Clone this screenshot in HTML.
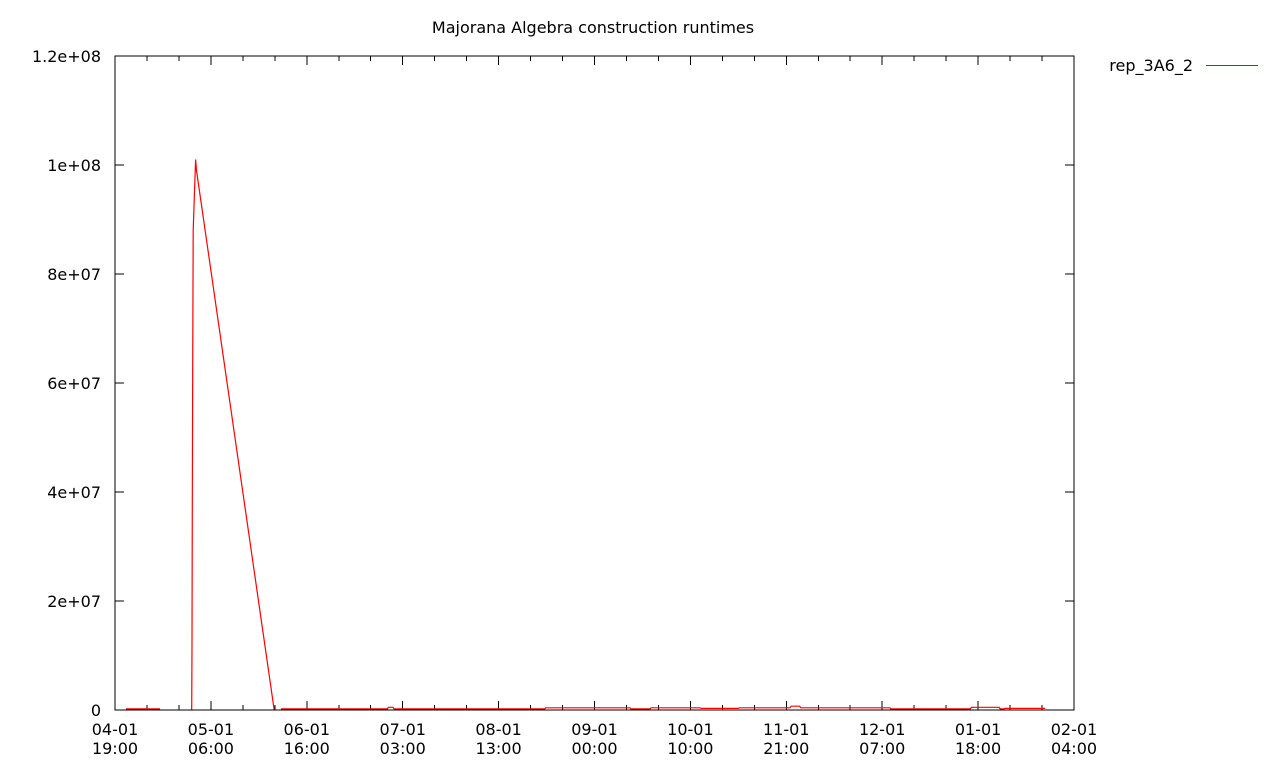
<!DOCTYPE html>
<html><head><meta charset="utf-8"><style>
body{margin:0;background:#fff;width:1280px;height:768px;overflow:hidden}
svg text{font-family:"DejaVu Sans","Liberation Sans",sans-serif;font-size:16px;fill:#000}
</style></head><body>
<svg id="chart" width="1280" height="768" xmlns="http://www.w3.org/2000/svg" shape-rendering="crispEdges"></svg>
<script>
// x positions are in "major tick" units (0 = 04-01 19:00, 10 = 02-01 04:00); null = gap
const seriesX = [0.115,0.47,null,0.80,0.803,0.806,0.81,0.815,0.84,0.85,1.66,null,1.73,2.84,2.85,2.90,2.91,4.48,4.49,5.37,5.38,5.58,5.59,6.10,6.11,6.50,6.51,7.04,7.05,7.14,7.15,8.08,8.09,8.92,8.93,9.22,9.23,9.27,9.28,9.70];
const seriesY = [2e5,2e5,null,0,1.2e7,3.8e7,6.3e7,8.8e7,1.01e8,9.9e7,0,null,2e5,2e5,5e5,5e5,2e5,2e5,4e5,4e5,2e5,2e5,4e5,4e5,3e5,3e5,4e5,4e5,7e5,7e5,4e5,4e5,2e5,2e5,5e5,5e5,2e5,2e5,3e5,3e5];
const xTickTop = ["04-01","05-01","06-01","07-01","08-01","09-01","10-01","11-01","12-01","01-01","02-01"];
const xTickBottom = ["19:00","06:00","16:00","03:00","13:00","00:00","10:00","21:00","07:00","18:00","04:00"];
const yTicks = [0,2e7,4e7,6e7,8e7,1e8,1.2e8];
const yTickLabels = ["0","2e+07","4e+07","6e+07","8e+07","1e+08","1.2e+08"];

const L=115,R=1074,T=56,B=710;
const xs=u=>L+u*(R-L)/10;
const ys=v=>B-v*(B-T)/1.2e8;
const svg=document.getElementById('chart');
const NS='http://www.w3.org/2000/svg';
function mk(tag,attrs,parent){const e=document.createElementNS(NS,tag);for(const k in attrs)e.setAttribute(k,attrs[k]);(parent||svg).appendChild(e);return e;}

let t=mk('text',{x:593,y:33,'text-anchor':'middle'});


t.textContent='Majorana Algebra construction runtimes';

yTicks.forEach((v,i)=>{
  const y=ys(v);
  const l1=mk('line',{x1:L,x2:L+9,y1:y,y2:y,stroke:'#000'});
  
  
  mk('line',{x1:R,x2:R-9,y1:y,y2:y,stroke:'#000'});
  const tx=mk('text',{x:101,y:y+6,'text-anchor':'end'});
  
  
  tx.textContent=yTickLabels[i];
});
xTickTop.forEach((s,i)=>{
  const x=xs(i);
  const l=mk('line',{x1:x,x2:x,y1:B,y2:B-9,stroke:'#000'});
  
  
  mk('line',{x1:x,x2:x,y1:T,y2:T+9,stroke:'#000'});
  if(i<10){for(let k=1;k<3;k++){const xm=xs(i+k/3);
    mk('line',{x1:xm,x2:xm,y1:B,y2:B-5,stroke:'#000'});
    mk('line',{x1:xm,x2:xm,y1:T,y2:T+5,stroke:'#000'});}}
  const a=mk('text',{x:x,y:735,'text-anchor':'middle'});
  
  
  a.textContent=s;
  const b=mk('text',{x:x,y:754,'text-anchor':'middle'});
  
  
  b.textContent=xTickBottom[i];
});
let d='',pen=false;
for(let i=0;i<seriesX.length;i++){
  if(seriesX[i]===null){pen=false;continue;}
  d+=(pen?'L':'M')+xs(seriesX[i]).toFixed(1)+' '+ys(seriesY[i]).toFixed(1)+' ';pen=true;
}
const p=mk('path',{d:d,fill:'none',stroke:'#ff0000','stroke-width':1.2,'shape-rendering':'auto'});


const f=mk('rect',{x:L,y:T,width:R-L,height:B-T,fill:'none',stroke:'#000'});


const lt=mk('text',{x:1193,y:71,'text-anchor':'end'});


lt.textContent='rep_3A6_2';
const ll=mk('rect',{x:1206,y:65,width:52,height:1,fill:'#ff0000'});


</script>
</body></html>
